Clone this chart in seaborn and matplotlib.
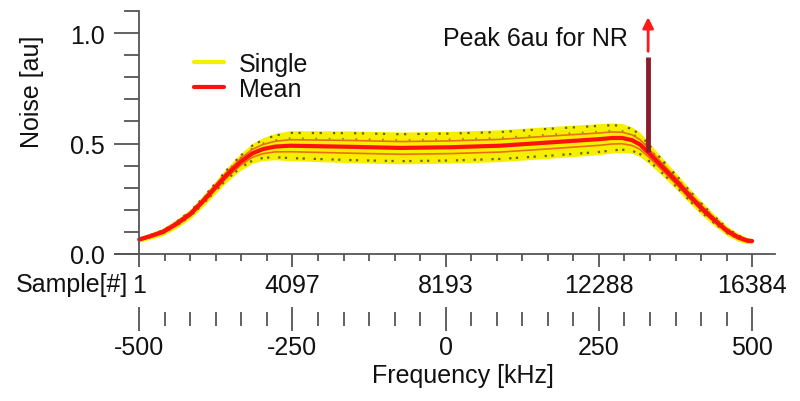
import numpy as np
import pandas as pd
import matplotlib
matplotlib.use("Agg")
import matplotlib.pyplot as plt
import seaborn as sns
from matplotlib.ticker import MultipleLocator, FixedLocator
from matplotlib.lines import Line2D

# style
sns.set_style("ticks")
plt.rcParams["font.family"] = ["Liberation Sans", "DejaVu Sans"]
plt.rcParams["font.size"] = 18
plt.rcParams["text.color"] = "#111111"
plt.rcParams["axes.labelcolor"] = "#111111"
plt.rcParams["xtick.labelcolor"] = "#111111"
plt.rcParams["ytick.labelcolor"] = "#111111"

# data (sample index -> noise in au)
samples = [1, 295, 642, 990, 1364, 1685, 1979, 2326, 2700, 3021, 3315,
           3636, 4037, 5640, 6976, 8313, 9649, 10985, 12322, 12642, 12909,
           13176, 13390, 13604, 13978, 14379, 14726, 15074, 15394, 15715,
           16009, 16250, 16384]
mean_noise = [0.065, 0.08, 0.10, 0.135, 0.18, 0.235, 0.29, 0.355, 0.415,
              0.455, 0.475, 0.486, 0.49, 0.485, 0.48, 0.483, 0.49, 0.505,
              0.52, 0.525, 0.525, 0.515, 0.495, 0.46, 0.395, 0.325, 0.26,
              0.20, 0.15, 0.104, 0.075, 0.06, 0.058]
spread = [0.012, 0.014, 0.017, 0.02, 0.022, 0.025, 0.028, 0.032, 0.038,
          0.045, 0.052, 0.06, 0.068, 0.072, 0.072, 0.072, 0.072, 0.072,
          0.07, 0.068, 0.065, 0.06, 0.055, 0.048, 0.04, 0.036, 0.033,
          0.03, 0.026, 0.022, 0.018, 0.014, 0.012]

peak_sample = 13604
peak_top = 0.89
peak_label = "Peak 6au for NR"

sample_ticks = [1, 4097, 8193, 12288, 16384]
freq_ticks = [-500, -250, 0, 250, 500]

df = pd.DataFrame({"sample": samples, "mean": mean_noise, "spread": spread})
df["lo"] = df["mean"] - df["spread"]
df["hi"] = df["mean"] + df["spread"]

yellow = "#f7ef00"
red = "#ff1010"

fig = plt.figure(figsize=(8, 4.02), dpi=100)
ax = fig.add_axes([0.144, 0.366, 0.825, 0.604])

# single traces: yellow band with dark speckles
ax.fill_between(df["sample"], df["lo"], df["hi"], color=yellow, lw=0)
ax.plot(df["sample"], df["hi"] - 0.01, color="#1a1a00", lw=1.6,
        ls=(0, (1, 2.5, 1, 5)), alpha=0.65)
ax.plot(df["sample"], df["lo"] + 0.012, color="#1a1a00", lw=1.6,
        ls=(2, (1, 4, 1, 2)), alpha=0.65)
ax.plot(df["sample"], df["mean"] + df["spread"] * 0.5, color="#1a1a00",
        lw=1.2, ls=(1, (1, 7)), alpha=0.5)
ax.plot(df["sample"], df["mean"] + df["spread"] * 0.4, color="#e8501a",
        lw=1.2, alpha=0.8)
ax.plot(df["sample"], df["mean"] - df["spread"] * 0.4, color="#e8501a",
        lw=1.2, alpha=0.8)

# mean
sns.lineplot(data=df, x="sample", y="mean", color=red, lw=3, ax=ax)

# peak spike + arrow
peak_base = np.interp(peak_sample, samples, mean_noise)
ax.plot([peak_sample, peak_sample], [peak_base, peak_top], color="#8b1c2c",
        lw=3.5, solid_capstyle="butt")
ax.annotate("", xy=(peak_sample, 1.085), xytext=(peak_sample, 0.905),
            arrowprops=dict(arrowstyle="-|>", color="#ff1a1a", lw=2,
                            mutation_scale=16))
ax.text(13060, 0.98, peak_label, ha="right", va="center", fontsize=18)

ax.set_xlim(-640, 17000)
ax.set_ylim(0, 1.1)

# spines
ax.spines["top"].set_visible(False)
ax.spines["right"].set_visible(False)
ax.spines["left"].set_position(("data", 1))
for s in ["left", "bottom"]:
    ax.spines[s].set_color("#555555")
    ax.spines[s].set_linewidth(1.3)

ax.yaxis.set_major_locator(FixedLocator([0.0, 0.5, 1.0]))
ax.yaxis.set_minor_locator(MultipleLocator(0.1))
ax.set_yticklabels(["0.0", "0.5", "1.0"])
ax.tick_params(axis="y", which="major", length=18, width=1.3,
               color="#555555", pad=7, labelsize=18)
ax.tick_params(axis="y", which="minor", length=11, width=1.3,
               color="#555555")

ax.xaxis.set_major_locator(FixedLocator(sample_ticks))
minor_s = [t + k * 4096 / 6 for t in sample_ticks[:-1] for k in range(1, 6)]
ax.xaxis.set_minor_locator(FixedLocator(minor_s))
ax.set_xticklabels([str(t) for t in sample_ticks])
ax.tick_params(axis="x", which="major", length=9, width=1.3,
               color="#555555", pad=5, labelsize=18)
ax.tick_params(axis="x", which="minor", length=5, width=1.3,
               color="#555555")
ax.set_xlabel("")
ax.set_ylabel("Noise [au]", fontsize=18)
ax.yaxis.set_label_coords(-0.108, 0.67)

fig.text(128 / 800, 1 - 285 / 402, "Sample[#]", ha="right", va="center",
         fontsize=18)

# frequency axis below
def s2f(s):
    return (np.asarray(s) - 1) / 16383 * 1000 - 500

def f2s(f):
    return (np.asarray(f) + 500) / 1000 * 16383 + 1

sec = ax.secondary_xaxis(-0.267, functions=(s2f, f2s))
sec.spines["bottom"].set_visible(False)
sec.xaxis.set_major_locator(FixedLocator(freq_ticks))
sec.xaxis.set_minor_locator(FixedLocator(
    [f + k * 250 / 6 for f in freq_ticks[:-1] for k in range(1, 6)]))
sec.set_xticklabels([str(f) for f in freq_ticks])
sec.tick_params(axis="x", which="major", direction="inout", length=17,
                width=1.3, color="#555555", pad=3, labelsize=18)
sec.tick_params(axis="x", which="minor", direction="inout", length=10,
                width=1.3, color="#555555")
sec.set_xlabel("Frequency [kHz]", fontsize=18, labelpad=3)
sec.xaxis.label.set_x(0.527)

handles = [Line2D([], [], color=yellow, lw=3),
           Line2D([], [], color=red, lw=3)]
ax.legend(handles, ["Single", "Mean"], loc="upper left",
          bbox_to_anchor=(0.085, 0.925), frameon=False, fontsize=18,
          handlelength=1.2, handletextpad=0.6, labelspacing=0.05)

fig.savefig("out.png", dpi=100)
